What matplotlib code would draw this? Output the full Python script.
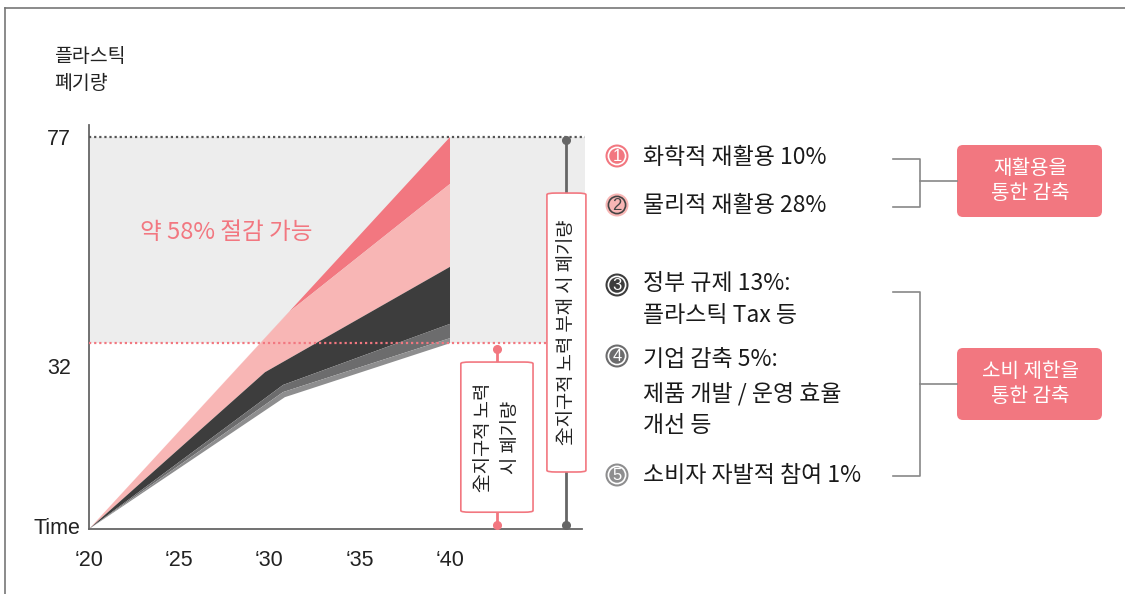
import numpy as np
import matplotlib
matplotlib.use("Agg")
import matplotlib.pyplot as plt
from matplotlib.patches import FancyBboxPatch, Circle

KR = ["Noto Sans CJK KR", "DejaVu Sans"]
NUM = ["Liberation Sans", "DejaVu Sans"]
plt.rcParams["font.family"] = KR

# ---- data -------------------------------------------------------------
# stacked boundary curves (year, plastic waste)
top_x, top_y = [2020, 2040], [0, 77]                       # no global effort
chem_x, chem_y = [2020, 2031.1, 2040], [0, 42.7, 67.8]      # below chemical recycling
phys_x, phys_y = [2020, 2029.75, 2040], [0, 30.8, 51.5]     # below physical recycling
gov_x, gov_y = [2020, 2030.75, 2040], [0, 28.3, 40.3]       # below government regulation
corp_x, corp_y = [2020, 2030.75, 2040], [0, 26.9, 37.5]     # below corporate reduction
base_x, base_y = [2020, 2030.85, 2040], [0, 25.9, 36.5]     # with global effort

year_ticks = [2020, 2025, 2030, 2035, 2040]
year_labels = ["\u201820", "\u201825", "\u201830", "\u201835", "\u201840"]
value_ticks = [32, 77]
value_labels = ["32", "77"]

layer_colors = ["#F27780", "#F8B6B5", "#3D3D3D", "#6C6C6D", "#8E8E8F"]

legend_items = [
    ("1", ["화학적 재활용 10%"]),
    ("2", ["물리적 재활용 28%"]),
    ("3", ["정부 규제 13%:", "플라스틱 Tax 등"]),
    ("4", ["기업 감축 5%:", "제품 개발 / 운영 효율", "개선 등"]),
    ("5", ["소비자 자발적 참여 1%"]),
]
group_labels = ["재활용을\n통한 감축", "소비 제한을\n통한 감축"]

# ---- figure -----------------------------------------------------------
W, H = 1125, 594
fig = plt.figure(figsize=(W / 100, H / 100), dpi=100)
fig.patch.set_facecolor("white")

x_left, x_right, y_bottom, y_top = 89, 585, 529, 125
ax = fig.add_axes([x_left / W, (H - y_bottom) / H,
                   (x_right - x_left) / W, (y_bottom - y_top) / H])
x_max = 2020 + (x_right - x_left) / 18.05
y_max = (y_bottom - y_top) / 5.09
ax.set_xlim(2020, x_max)
ax.set_ylim(0, y_max)
ax.set_facecolor("none")

for s in ["top", "right"]:
    ax.spines[s].set_visible(False)
for s in ["left", "bottom"]:
    ax.spines[s].set_color("#666666")
    ax.spines[s].set_linewidth(1.3)
ax.spines["bottom"].set_bounds(2020, x_max - 0.15)

# reduction band between the two scenarios
ax.fill_between([2020, x_max], base_y[-1], top_y[-1], color="#EDEDED", lw=0, zorder=0)


def layer(ux, uy, lx, ly, color):
    xs = np.r_[ux, lx[::-1]]
    ys = np.r_[uy, ly[::-1]]
    ax.fill(xs, ys, color=color, lw=0, zorder=2)


layer(top_x, top_y, chem_x, chem_y, layer_colors[0])
layer(chem_x, chem_y, phys_x, phys_y, layer_colors[1])
layer(phys_x, phys_y, gov_x, gov_y, layer_colors[2])
layer(gov_x, gov_y, corp_x, corp_y, layer_colors[3])
layer(corp_x, corp_y, base_x, base_y, layer_colors[4])

# reference lines
ax.plot([2020, x_max], [top_y[-1]] * 2, color="#555555", lw=1.6,
        dashes=(1, 1.3), dash_capstyle="butt", zorder=3, clip_on=False)
ax.plot([2020, x_max], [base_y[-1]] * 2, color="#F27780", lw=1.6,
        dashes=(1, 1.3), dash_capstyle="butt", zorder=3, clip_on=False)

# ticks
ax.set_xticks(year_ticks, year_labels)
ax.set_yticks(value_ticks, value_labels)
ax.tick_params(axis="both", length=0, labelsize=15.5, colors="#222222")
ax.tick_params(axis="x", pad=15)
ax.tick_params(axis="y", pad=13)
for t in ax.get_xticklabels() + ax.get_yticklabels():
    t.set_family(NUM)
ax.annotate("Time", xy=(2020, 0), xytext=(-6, 0), textcoords="offset points",
            ha="right", va="center", fontsize=15.5, family=NUM, color="#222222",
            annotation_clip=False)

ax.text(2022.8, 58.3, "약 58% 절감 가능", color="#F27780", fontsize=17,
        ha="left", va="center")

# scenario markers with vertical labels
def marker(xc, y_dot_top, y_box_top, y_box_bot, half_w, color, text, fs):
    ax.plot([xc, xc], [y_dot_top, y_box_top], color=color, lw=2, zorder=4, clip_on=False)
    ax.plot([xc, xc], [y_box_bot, 0.8], color=color, lw=2, zorder=4, clip_on=False)
    ax.plot([xc, xc], [y_dot_top, 0.8], ls="none", marker="o", ms=5.5,
            color=color, zorder=5, clip_on=False)
    box = FancyBboxPatch((xc - half_w, y_box_bot), 2 * half_w, y_box_top - y_box_bot,
                         boxstyle="round,pad=0,rounding_size=0.5",
                         mutation_aspect=5.09 / 18.05 * 2.2,
                         fc="white", ec="#F27780", lw=1.2, zorder=6, clip_on=False)
    ax.add_patch(box)
    ax.text(xc, (y_box_top + y_box_bot) / 2, text, rotation=90, ha="center",
            va="center", multialignment="center", fontsize=fs, color="#222222",
            linespacing=1.4, zorder=7, clip_on=False)


marker(2042.6, 35.4, 32.8, 3.3, 2.0, "#F27780", "全지구적 노력\n시 폐기량", 13.5)
marker(2046.45, 76.4, 66.0, 11.2, 1.08, "#666666", "全지구적 노력 부재 시 폐기량", 13.5)

# ---- overlay in pixel coordinates for labels and legend --------------
ov = fig.add_axes([0, 0, 1, 1], zorder=10)
ov.set_xlim(0, W)
ov.set_ylim(H, 0)
ov.axis("off")
ov.patch.set_alpha(0)

# frame
ov.plot([5, W], [8, 8], color="#777777", lw=1.2)
ov.plot([5, 5], [8, H], color="#777777", lw=1.2)

ov.text(54, 70, "플라스틱\n폐기량", fontsize=14, color="#222222", ha="left",
        va="center", linespacing=1.4)

circle_y = [156, 205, 285, 356, 475]
text_rows = [[160], [207], [285, 317], [362, 396, 428], [477]]
num_colors = ["white", "#444444", "white", "white", "white"]
for (num, lines), cy, rows, fc, nc in zip(legend_items, circle_y, text_rows,
                                          layer_colors, num_colors):
    ov.add_patch(Circle((617, cy), 11.5, fc=fc, ec="none"))
    ov.add_patch(Circle((617, cy), 8.6, fc="none", ec=nc, lw=1.2))
    ov.text(617, cy + 0.6, num, ha="center", va="center", fontsize=12,
            color=nc, family=NUM)
    for line, ry in zip(lines, rows):
        ov.text(643, ry - 2, line, ha="left", va="center", fontsize=16.5,
                color="#1A1A1A")

# brackets
bc = "#888888"
for y1, y2, ym in [(159, 207, 181), (292, 476, 384)]:
    ov.plot([893, 920, 920, 893], [y1, y1, y2, y2], color=bc, lw=1.2)
    ov.plot([920, 957], [ym, ym], color=bc, lw=1.2)

for (y1, y2), label in zip([(145, 217), (348, 420)], group_labels):
    ov.add_patch(FancyBboxPatch((957, y1), 145, y2 - y1,
                                boxstyle="round,pad=0,rounding_size=6",
                                fc="#F27780", ec="none"))
    ov.text(1030, (y1 + y2) / 2, label, ha="center", va="center", fontsize=14.5,
            color="white", linespacing=1.25, multialignment="center")

fig.savefig("out.png", dpi=100, facecolor="white")
